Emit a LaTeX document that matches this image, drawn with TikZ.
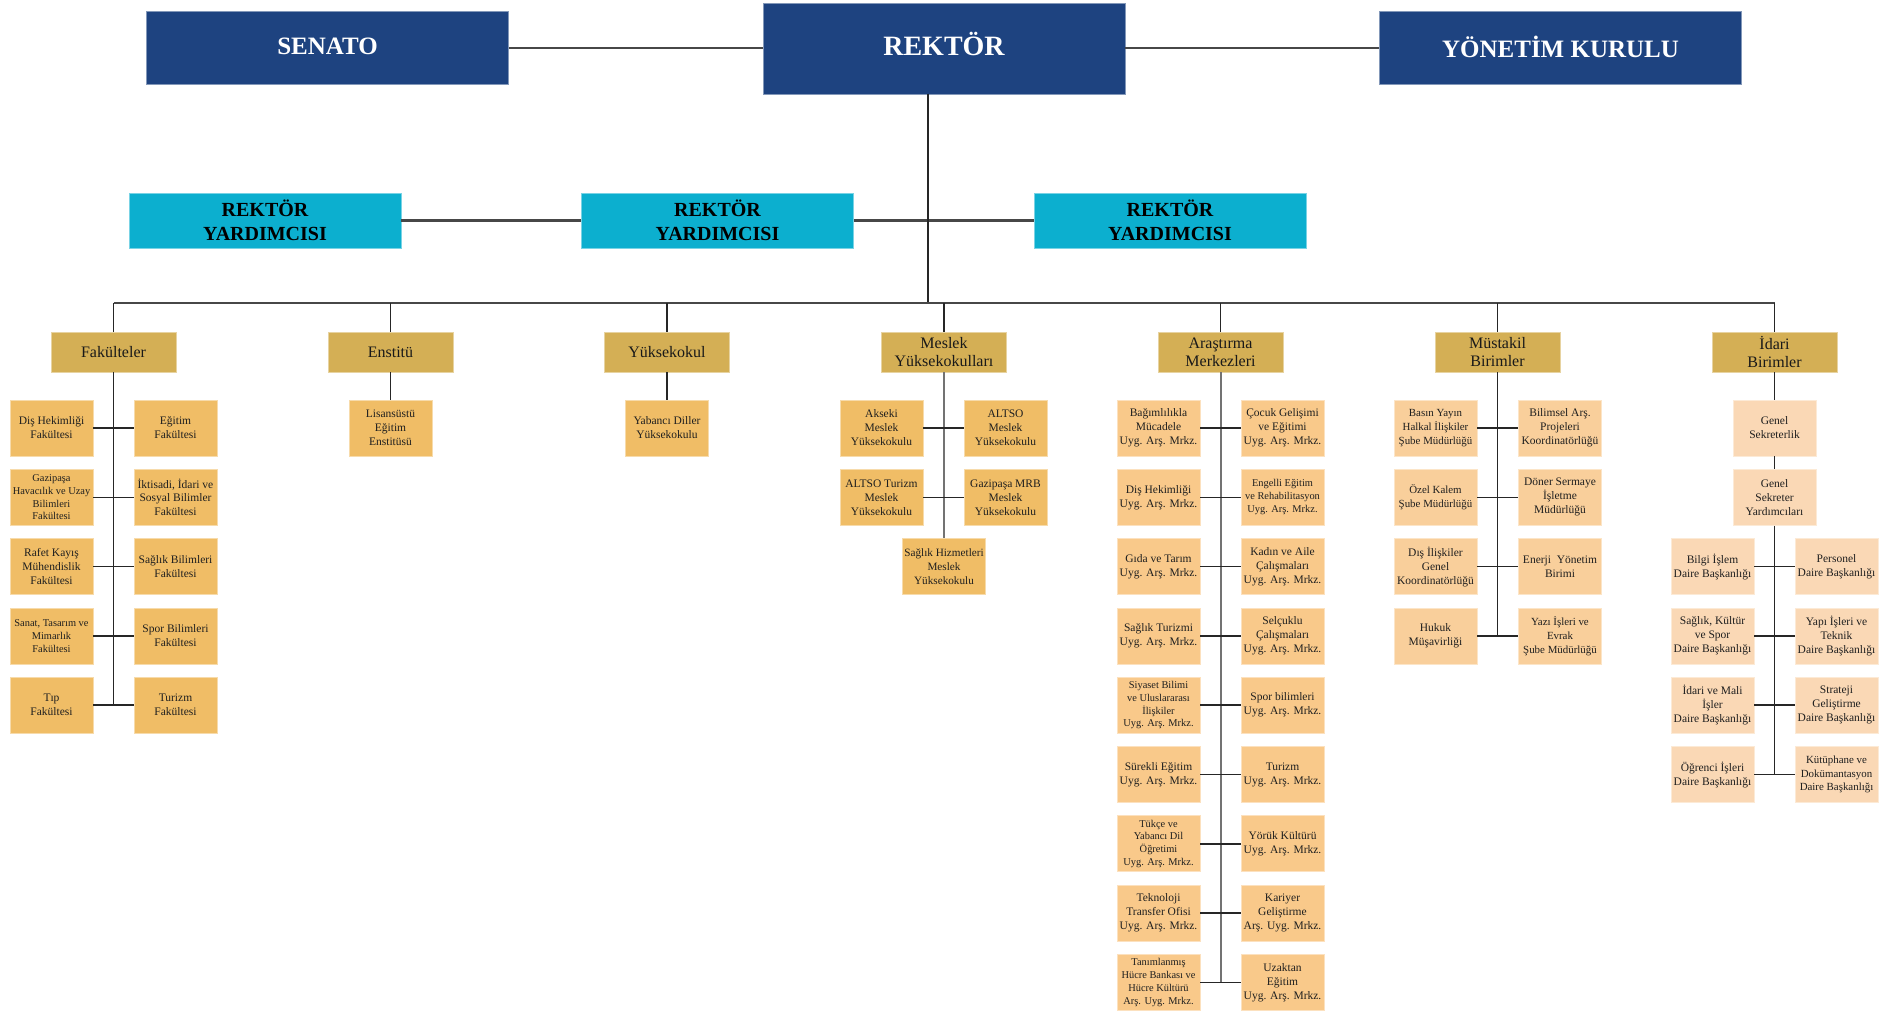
\documentclass[tikz,border=0pt]{standalone}
\usepackage{fontspec}
\setmainfont{Liberation Serif}
\definecolor{navy}{HTML}{1E4380}
\definecolor{cyanb}{HTML}{0CAFCF}
\definecolor{goldh}{HTML}{D4AF55}
\definecolor{orng}{HTML}{F0BD66}
\definecolor{peach}{HTML}{F9C98A}
\definecolor{peachb}{HTML}{F9CF9B}
\definecolor{lpeach}{HTML}{FAD8B5}
\begin{document}
\begin{tikzpicture}[x=1pt,y=-1pt,
  topbox/.style={fill=navy, draw=navy!55!white, line width=0.8, text=white,
    font=\bfseries\fontsize{25}{30}\selectfont, minimum width=362, minimum height=73, inner sep=0,
    text height=12.5pt, text depth=0pt},
  rybox/.style={fill=cyanb, draw=cyanb!55!white, line width=0.8, text=black,
    font=\bfseries\fontsize{20}{24}\selectfont, align=center, minimum width=272, minimum height=55, inner sep=0},
  hdbox/.style={fill=goldh, draw=goldh!55!white, line width=0.8, text=black!90,
    font=\fontsize{16}{18}\selectfont, align=center, minimum width=125, minimum height=40, inner sep=0},
  bx/.style={line width=0.8, text=black!88, font=\fontsize{11.5}{14}\selectfont,
    align=center, minimum width=83, minimum height=56, inner sep=0},
  fkb/.style={bx, fill=orng, draw=orng!55!white},
  arb/.style={bx, fill=peach, draw=peach!55!white},
  msb/.style={bx, fill=peachb, draw=peachb!55!white},
  idb/.style={bx, fill=lpeach, draw=lpeach!55!white},
  sm/.style={font=\fontsize{10.4}{12.8}\selectfont},
  smb/.style={font=\fontsize{10.9}{13.8}\selectfont},
  conn/.style={draw=black!85, line width=1.6},
  gconn/.style={draw=black!55, line width=2},
  topconn/.style={draw=black!72, line width=2.4}]
\useasboundingbox (0,0) rectangle (1894,1010);

% top level
\node[topbox] (sen) at (327.5,48) {SENATO};
\node[topbox, minimum height=91, font=\bfseries\fontsize{28}{32}\selectfont, text height=14.5pt, text depth=0pt] (rek) at (944,48.5) {REKTÖR};
\node[topbox, text height=19pt] (yon) at (1560.5,48) {YÖNETİM KURULU};
\draw[topconn] (sen.east) -- (sen.east -| rek.west);
\draw[topconn] (yon.west -| rek.east) -- (yon.west);

% rector deputies
\node[rybox] (ry1) at (265,220.5) {REKTÖR\\YARDIMCISI};
\node[rybox] (ry2) at (717.5,220.5) {REKTÖR\\YARDIMCISI};
\node[rybox] (ry3) at (1170,220.5) {REKTÖR\\YARDIMCISI};
\draw[topconn] (ry1.east) -- (ry2.west);
\draw[topconn] (ry2.east) -- (ry3.west);

% trunk and bus
\coordinate (tr) at (927.7,303);
\coordinate (busL) at (113.5,303);
\coordinate (busR) at (1774.5,303);
\draw[conn] (rek.south -| tr) -- (tr);
\draw[topconn] (busL) -- (busR);

% headers
\node[hdbox] (fak) at (113.5,352) {Fakülteler};
\node[hdbox] (ens) at (390.5,352) {Enstitü};
\node[hdbox] (yuk) at (667,352) {Yüksekokul};
\node[hdbox] (mes) at (944,352) {Meslek\\Yüksekokulları};
\node[hdbox] (ara) at (1220.5,352) {Araştırma\\Merkezleri};
\node[hdbox] (mus) at (1497.5,352) {Müstakil\\Birimler};
\node[hdbox] (ida) at (1774.5,352) {İdari\\Birimler};
\foreach \h in {fak,ens,yuk,mes,ara,mus,ida}{
  \draw[conn] (\h.north |- busL) -- (\h.north);
}

% Fakülteler
\node[fkb] (f1L) at (51.5,428) {Diş Hekimliği\\Fakültesi};
\node[fkb] (f1R) at (175.5,428) {Eğitim\\Fakültesi};
\node[fkb,sm] (f2L) at (51.5,428+69.3) {Gazipaşa\\Havacılık ve Uzay\\Bilimleri\\Fakültesi};
\node[fkb] (f2R) at (175.5,428+69.3) {İktisadi, İdari ve\\Sosyal Bilimler\\Fakültesi};
\node[fkb] (f3L) at (51.5,428+2*69.3) {Rafet Kayış\\Mühendislik\\Fakültesi};
\node[fkb] (f3R) at (175.5,428+2*69.3) {Sağlık Bilimleri\\Fakültesi};
\node[fkb,sm] (f4L) at (51.5,428+3*69.3) {Sanat, Tasarım ve\\Mimarlık\\Fakültesi};
\node[fkb] (f4R) at (175.5,428+3*69.3) {Spor Bilimleri\\Fakültesi};
\node[fkb] (f5L) at (51.5,428+4*69.3) {Tıp\\Fakültesi};
\node[fkb] (f5R) at (175.5,428+4*69.3) {Turizm\\Fakültesi};
\coordinate (fakEnd) at (113.5,428+4*69.3);
\draw[conn] (fak.south) -- (fakEnd);
\foreach \r in {1,...,5}{\draw[conn] (f\r L.east) -- (f\r R.west);}

% Enstitü, Yüksekokul
\node[fkb] (ens1) at (390.5,428) {Lisansüstü\\Eğitim\\Enstitüsü};
\draw[conn] (ens.south) -- (ens1.north);
\node[fkb] (yuk1) at (667,428) {Yabancı Diller\\Yüksekokulu};
\draw[conn] (yuk.south) -- (yuk1.north);

% Meslek Yüksekokulları
\node[fkb] (m1L) at (881.5,428) {Akseki\\Meslek\\Yüksekokulu};
\node[fkb] (m1R) at (1005.5,428) {ALTSO\\Meslek\\Yüksekokulu};
\node[fkb] (m2L) at (881.5,428+69.3) {ALTSO Turizm\\Meslek\\Yüksekokulu};
\node[fkb] (m2R) at (1005.5,428+69.3) {Gazipaşa MRB\\Meslek\\Yüksekokulu};
\node[fkb,font=\fontsize{11.2}{14}\selectfont] (m3) at (944,428+2*69.3) {Sağlık Hizmetleri\\Meslek\\Yüksekokulu};
\draw[gconn] (mes.south) -- (m3.north);
\foreach \r in {1,2}{\draw[conn] (m\r L.east) -- (m\r R.west);}

% Araştırma Merkezleri
\node[arb] (a1L) at (1158.5,428) {Bağımlılıkla\\Mücadele\\Uyg. Arş. Mrkz.};
\node[arb] (a1R) at (1282.5,428) {Çocuk Gelişimi\\ve Eğitimi\\Uyg. Arş. Mrkz.};
\node[arb] (a2L) at (1158.5,428+69.3) {Diş Hekimliği\\Uyg. Arş. Mrkz.};
\node[arb,sm] (a2R) at (1282.5,428+69.3) {Engelli Eğitim\\ve Rehabilitasyon\\Uyg. Arş. Mrkz.};
\node[arb] (a3L) at (1158.5,428+2*69.3) {Gıda ve Tarım\\Uyg. Arş. Mrkz.};
\node[arb] (a3R) at (1282.5,428+2*69.3) {Kadın ve Aile\\Çalışmaları\\Uyg. Arş. Mrkz.};
\node[arb] (a4L) at (1158.5,428+3*69.3) {Sağlık Turizmi\\Uyg. Arş. Mrkz.};
\node[arb] (a4R) at (1282.5,428+3*69.3) {Selçuklu\\Çalışmaları\\Uyg. Arş. Mrkz.};
\node[arb,sm] (a5L) at (1158.5,428+4*69.3) {Siyaset Bilimi\\ve Uluslararası\\İlişkiler\\Uyg. Arş. Mrkz.};
\node[arb] (a5R) at (1282.5,428+4*69.3) {Spor bilimleri\\Uyg. Arş. Mrkz.};
\node[arb] (a6L) at (1158.5,428+5*69.3) {Sürekli Eğitim\\Uyg. Arş. Mrkz.};
\node[arb] (a6R) at (1282.5,428+5*69.3) {Turizm\\Uyg. Arş. Mrkz.};
\node[arb,sm] (a7L) at (1158.5,428+6*69.3) {Tükçe ve\\Yabancı Dil\\Öğretimi\\Uyg. Arş. Mrkz.};
\node[arb] (a7R) at (1282.5,428+6*69.3) {Yörük Kültürü\\Uyg. Arş. Mrkz.};
\node[arb] (a8L) at (1158.5,428+7*69.3) {Teknoloji\\Transfer Ofisi\\Uyg. Arş. Mrkz.};
\node[arb] (a8R) at (1282.5,428+7*69.3) {Kariyer\\Geliştirme\\Arş. Uyg. Mrkz.};
\node[arb,sm] (a9L) at (1158.5,428+8*69.3) {Tanımlanmış\\Hücre Bankası ve\\Hücre Kültürü\\Arş. Uyg. Mrkz.};
\node[arb] (a9R) at (1282.5,428+8*69.3) {Uzaktan\\Eğitim\\Uyg. Arş. Mrkz.};
\coordinate (araEnd) at (1220.5,428+8*69.3);
\draw[gconn] (ara.south) -- (araEnd);
\foreach \r in {1,...,9}{\draw[conn] (a\r L.east) -- (a\r R.west);}

% Müstakil Birimler
\node[msb,smb] (s1L) at (1435.5,428) {Basın Yayın\\Halkal İlişkiler\\Şube Müdürlüğü};
\node[msb] (s1R) at (1560,428) {Bilimsel Arş.\\Projeleri\\Koordinatörlüğü};
\node[msb,smb] (s2L) at (1435.5,428+69.3) {Özel Kalem\\Şube Müdürlüğü};
\node[msb] (s2R) at (1560,428+69.3) {Döner Sermaye\\İşletme\\Müdürlüğü};
\node[msb] (s3L) at (1435.5,428+2*69.3) {Dış İlişkiler\\Genel\\Koordinatörlüğü};
\node[msb] (s3R) at (1560,428+2*69.3) {Enerji\ \ Yönetim\\Birimi};
\node[msb] (s4L) at (1435.5,428+3*69.3) {Hukuk\\Müşavirliği};
\node[msb,smb] (s4R) at (1560,428+3*69.3) {Yazı İşleri ve\\Evrak\\Şube Müdürlüğü};
\coordinate (musEnd) at (1497.5,428+3*69.3);
\draw[conn] (mus.south) -- (musEnd);
\foreach \r in {1,...,4}{\draw[conn] (s\r L.east) -- (s\r R.west);}

% İdari Birimler
\node[idb] (gs) at (1774.5,428) {Genel\\Sekreterlik};
\node[idb] (gsy) at (1774.5,428+69.3) {Genel\\Sekreter\\Yardımcıları};
\node[idb] (i1L) at (1712.5,428+2*69.3) {Bilgi İşlem\\Daire Başkanlığı};
\node[idb] (i1R) at (1836.5,428+2*69.3) {Personel\\Daire Başkanlığı};
\node[idb] (i2L) at (1712.5,428+3*69.3) {Sağlık, Kültür\\ve Spor\\Daire Başkanlığı};
\node[idb] (i2R) at (1836.5,428+3*69.3) {Yapı İşleri ve\\Teknik\\Daire Başkanlığı};
\node[idb] (i3L) at (1712.5,428+4*69.3) {İdari ve Mali\\İşler\\Daire Başkanlığı};
\node[idb] (i3R) at (1836.5,428+4*69.3) {Strateji\\Geliştirme\\Daire Başkanlığı};
\node[idb] (i4L) at (1712.5,428+5*69.3) {Öğrenci İşleri\\Daire Başkanlığı};
\node[idb,smb] (i4R) at (1836.5,428+5*69.3) {Kütüphane ve\\Dokümantasyon\\Daire Başkanlığı};
\coordinate (idaEnd) at (1774.5,428+5*69.3);
\draw[conn] (ida.south) -- (gs.north);
\draw[conn] (gs.south) -- (gsy.north);
\draw[conn] (gsy.south) -- (idaEnd);
\foreach \r in {1,...,4}{\draw[conn] (i\r L.east) -- (i\r R.west);}
\end{tikzpicture}
\end{document}
